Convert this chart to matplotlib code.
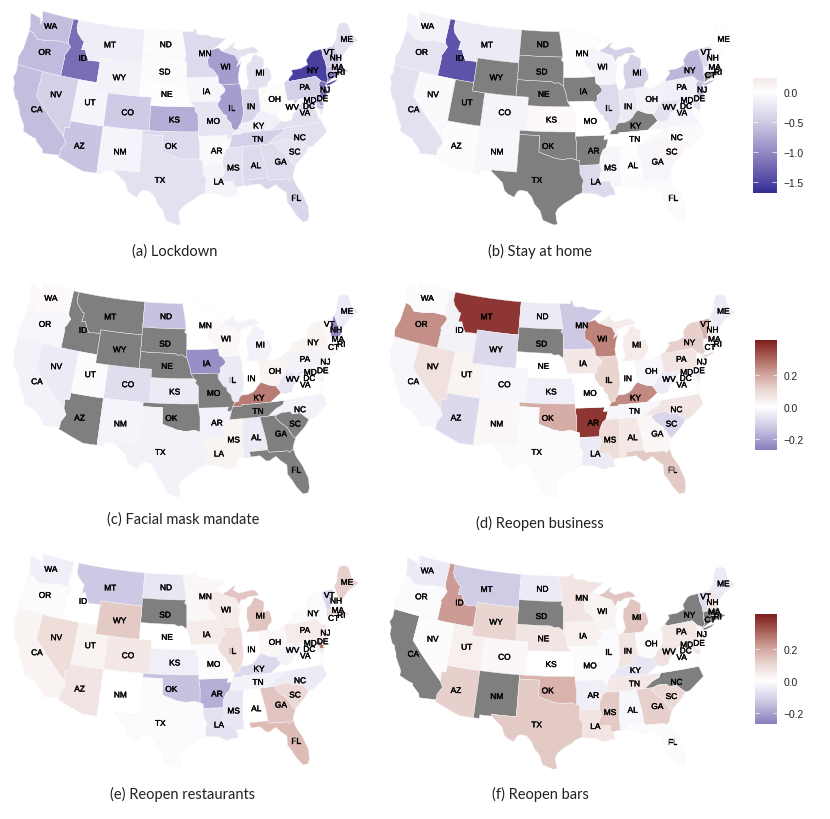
import numpy as np
import matplotlib
matplotlib.use("Agg")
import matplotlib.pyplot as plt
import matplotlib.patheffects as pe
from matplotlib.colors import LinearSegmentedColormap, to_rgb
from matplotlib.patches import Polygon

W, H = 830, 820
nan = float("nan")

STATES = ["AL","AR","AZ","CA","CO","CT","DC","DE","FL","GA","IA","ID","IL","IN","KS","KY","LA",
          "MA","MD","ME","MI","MN","MO","MS","MT","NC","ND","NE","NH","NJ","NM","NV","NY","OH",
          "OK","OR","PA","RI","SC","SD","TN","TX","UT","VA","VT","WA","WI","WV","WY"]

LOCKDOWN = [-0.35,-0.05,-0.55,-0.60,-0.50,-1.10,-0.50,-0.90,-0.40,-0.33,-0.08,-1.20,-0.85,-0.40,-0.72,-0.15,-0.10,
            -0.55,-0.55,-0.30,-0.30,-0.35,-0.25,-0.30,-0.17,-0.30,-0.03,-0.02,-0.50,-1.20,-0.10,-0.45,-1.55,0.05,
            -0.35,-0.62,-0.45,-0.40,-0.25,-0.03,-0.45,-0.30,-0.10,-0.30,-0.50,-0.60,-0.85,0.00,-0.12]
STAY_HOME = [-0.02,nan,-0.03,-0.30,-0.10,nan,-0.20,-0.35,-0.04,-0.08,nan,-1.40,-0.35,-0.20,0.06,nan,-0.35,
             -0.10,-0.30,0.02,-0.45,-0.01,0.00,-0.08,-0.20,-0.05,nan,nan,-0.05,-0.60,-0.08,-0.05,-0.65,-0.12,
             nan,-0.25,-0.15,nan,0.10,nan,0.00,nan,nan,-0.10,-0.35,-0.12,-0.10,-0.30,nan]
MASK = [-0.05,-0.035,nan,-0.03,-0.08,0.02,0.00,-0.01,nan,nan,-0.24,nan,-0.05,0.00,-0.05,0.27,0.03,
        0.00,-0.03,-0.05,-0.03,0.00,nan,0.03,nan,-0.03,-0.14,nan,-0.25,-0.03,-0.025,-0.05,0.03,0.03,
        nan,-0.02,-0.03,0.00,nan,nan,nan,-0.03,-0.01,0.00,0.02,0.015,0.02,-0.06,nan]
BUSINESS = [0.06,0.38,-0.09,-0.02,-0.02,0.00,0.00,-0.05,0.13,0.02,0.06,-0.03,0.11,0.00,-0.04,0.25,-0.05,
            0.01,-0.03,-0.05,0.05,-0.13,0.00,0.09,0.38,0.07,-0.05,0.00,0.05,0.00,0.02,0.08,0.12,-0.02,
            0.19,0.24,0.07,0.00,-0.10,nan,-0.02,-0.01,0.03,0.00,0.18,0.01,0.26,-0.05,-0.09]
RESTAURANTS = [0.00,-0.18,0.07,0.03,0.06,0.00,0.00,0.28,0.16,0.14,0.05,0.00,0.09,0.00,-0.04,-0.09,-0.07,
               0.10,-0.05,0.12,0.14,0.02,0.01,-0.06,-0.13,-0.05,-0.06,0.00,-0.01,0.06,0.00,0.09,-0.01,0.02,
               -0.14,-0.01,0.05,0.05,0.10,nan,-0.03,-0.01,0.03,0.00,-0.10,-0.04,0.05,-0.03,0.13]
BARS = [-0.02,-0.04,0.12,nan,0.02,nan,0.00,-0.04,-0.01,0.12,0.04,0.22,-0.01,0.07,0.00,-0.06,0.07,
        nan,0.08,-0.05,0.14,0.07,0.01,0.13,-0.12,nan,-0.05,0.07,0.07,0.02,nan,0.01,nan,0.01,
        0.18,-0.01,0.06,nan,0.10,nan,0.06,0.13,0.04,0.00,-0.08,-0.05,0.03,0.08,0.11]

CAPTIONS = ["(a) Lockdown","(b) Stay at home","(c) Facial mask mandate",
            "(d) Reopen business","(e) Reopen restaurants","(f) Reopen bars"]
TICKS_WIDE = [0.0,-0.5,-1.0,-1.5]
TICKS_NARROW = [0.2,0.0,-0.2]

# ---------- geography: simplified state outlines, (lon, lat) ----------
GEO = {
"WA":[[(-124.7,48.38),(-123.1,48.15),(-122.75,48.1),(-122.45,47.4),(-122.3,47.9),(-122.5,48.4),(-122.76,49),(-117.03,49),(-117.04,46.42),(-116.92,45.99),(-118.98,46),(-119.3,45.93),(-120.5,45.7),(-121.2,45.65),(-122.3,45.55),(-122.8,45.9),(-123.2,46.15),(-124,46.27),(-124.1,46.9),(-124.4,47.5)]],
"OR":[[(-124,46.27),(-123.2,46.15),(-122.8,45.9),(-122.3,45.55),(-121.2,45.65),(-120.5,45.7),(-119.3,45.93),(-118.98,46),(-116.92,45.99),(-116.46,45.6),(-116.85,44.9),(-117.2,44.4),(-117.03,44.2),(-117.03,42),(-124.21,42),(-124.5,42.85),(-124.1,44)]],
"CA":[[(-124.21,42),(-120,42),(-120,39),(-114.63,35),(-114.14,34.3),(-114.72,33.4),(-114.72,32.72),(-117.12,32.53),(-117.3,33),(-118.4,33.75),(-118.5,34.03),(-119.2,34.15),(-120.6,34.55),(-120.65,35.15),(-121.9,36.6),(-122,36.95),(-122.5,37.6),(-122.5,37.8),(-123,38),(-123.75,39),(-123.85,39.8),(-124.35,40.4),(-124.1,41)]],
"NV":[[(-120,42),(-114.04,42),(-114.05,36.2),(-114.75,36.1),(-114.63,35),(-120,39)]],
"ID":[[(-117.03,49),(-116.05,49),(-116.05,48),(-115.7,47.45),(-114.7,46.7),(-114.35,46.65),(-114.5,45.55),(-113.9,45.65),(-113.45,44.95),(-113,44.45),(-111.5,44.55),(-111.05,44.48),(-111.05,42),(-117.03,42),(-117.03,44.2),(-117.2,44.4),(-116.85,44.9),(-116.46,45.6),(-116.92,45.99),(-117.04,46.42)]],
"MT":[[(-116.05,49),(-104.05,49),(-104.05,45),(-111.05,45),(-111.05,44.48),(-111.5,44.55),(-113,44.45),(-113.45,44.95),(-113.9,45.65),(-114.5,45.55),(-114.35,46.65),(-114.7,46.7),(-115.7,47.45),(-116.05,48)]],
"WY":[[(-111.05,45),(-104.05,45),(-104.05,41),(-111.05,41)]],
"UT":[[(-114.04,42),(-111.05,42),(-111.05,41),(-109.05,41),(-109.05,37),(-114.05,37)]],
"AZ":[[(-114.05,37),(-109.05,37),(-109.05,31.33),(-111.07,31.33),(-114.82,32.5),(-114.72,32.72),(-114.72,33.4),(-114.14,34.3),(-114.63,35),(-114.75,36.1),(-114.05,36.2)]],
"CO":[[(-109.05,41),(-102.05,41),(-102.05,37),(-109.05,37)]],
"NM":[[(-109.05,37),(-103,37),(-103.04,32),(-106.62,32),(-106.53,31.78),(-108.2,31.78),(-108.2,31.33),(-109.05,31.33)]],
"ND":[[(-104.05,49),(-97.23,49),(-96.85,47.5),(-96.56,45.94),(-104.05,45.94)]],
"SD":[[(-104.05,45.94),(-96.56,45.94),(-96.85,45.6),(-96.45,45.3),(-96.45,43.5),(-96.44,42.49),(-96.7,42.6),(-97.2,42.85),(-97.9,42.8),(-98.5,43),(-104.05,43)]],
"NE":[[(-104.05,43),(-98.5,43),(-97.9,42.8),(-97.2,42.85),(-96.7,42.6),(-96.44,42.49),(-96.1,41.7),(-95.9,41.2),(-95.85,40.7),(-95.31,40),(-102.05,40),(-102.05,41),(-104.05,41)]],
"KS":[[(-102.05,40),(-95.31,40),(-94.9,39.8),(-95.1,39.5),(-94.61,39.1),(-94.62,37),(-102.05,37)]],
"OK":[[(-103,37),(-94.62,37),(-94.62,36.5),(-94.43,35.4),(-94.48,33.64),(-95.3,33.88),(-96.2,33.75),(-97,33.75),(-97.2,33.85),(-97.9,33.9),(-98.4,34.1),(-99.2,34.3),(-100,34.56),(-100,36.5),(-103,36.5)]],
"TX":[[(-103,36.5),(-100,36.5),(-100,34.56),(-99.2,34.3),(-98.4,34.1),(-97.9,33.9),(-97.2,33.85),(-97,33.75),(-96.2,33.75),(-95.3,33.88),(-94.48,33.64),(-94.04,33.55),(-94.04,32),(-93.55,31.2),(-93.8,30.5),(-93.7,30.1),(-93.85,29.7),(-94.7,29.4),(-95.2,29),(-96.2,28.5),(-97.1,27.85),(-97.4,27.3),(-97.3,26.6),(-97.15,25.96),(-97.6,25.85),(-98.2,26.06),(-99.1,26.4),(-99.5,27.5),(-100.3,28.3),(-100.7,29.1),(-101.4,29.77),(-102.3,29.87),(-102.7,29.7),(-103.15,28.98),(-104,29.3),(-104.5,29.65),(-104.9,30.6),(-106,31.4),(-106.53,31.78),(-106.62,32),(-103.04,32)]],
"MN":[[(-97.23,49),(-95.15,49),(-95.15,49.38),(-94.8,49.3),(-94.6,48.72),(-93.8,48.55),(-92.95,48.62),(-92,48.3),(-90.8,48.2),(-89.5,48),(-90.8,47.3),(-92.05,46.75),(-92.3,46.65),(-92.3,46.1),(-92.85,45.6),(-92.75,44.75),(-91.9,44.3),(-91.2,43.5),(-96.45,43.5),(-96.45,45.3),(-96.85,45.6),(-96.56,45.94),(-96.85,47.5)]],
"IA":[[(-96.45,43.5),(-91.2,43.5),(-91.1,42.7),(-90.64,42.5),(-90.15,41.95),(-90.3,41.6),(-91.05,41.2),(-91,40.75),(-91.42,40.38),(-91.7,40.6),(-95.77,40.58),(-95.85,40.7),(-95.9,41.2),(-96.1,41.7),(-96.44,42.49)]],
"MO":[[(-95.77,40.58),(-91.7,40.6),(-91.42,40.38),(-91.5,40),(-90.7,39),(-90.2,38.8),(-90.2,38.4),(-89.6,37.9),(-89.5,37.3),(-89.15,37),(-89.5,36.5),(-89.7,36),(-90.37,36),(-90.15,36.5),(-94.62,36.5),(-94.62,37),(-94.61,39.1),(-95.1,39.5),(-94.9,39.8),(-95.31,40)]],
"AR":[[(-94.62,36.5),(-90.15,36.5),(-90.37,36),(-89.7,36),(-90.1,35),(-90.6,34.7),(-91.05,33.9),(-91.17,33),(-94.04,33.02),(-94.04,33.55),(-94.48,33.64),(-94.43,35.4)]],
"LA":[[(-94.04,33.02),(-91.17,33),(-90.9,32.3),(-91.6,31),(-89.73,31),(-89.85,30.65),(-89.55,30.2),(-89.4,30.05),(-89.2,29.3),(-89.9,29.3),(-90.9,29.05),(-91.8,29.5),(-92.3,29.55),(-93.85,29.7),(-93.7,30.1),(-93.8,30.5),(-93.55,31.2),(-94.04,32)]],
"WI":[[(-92.05,46.75),(-90.9,46.95),(-90.4,46.55),(-89.1,46.15),(-88.1,45.9),(-87.8,45.35),(-87.6,45.1),(-88,44.55),(-87.4,44.9),(-87.1,45.2),(-87.55,44.3),(-87.9,43.2),(-87.8,42.49),(-90.64,42.5),(-91.1,42.7),(-91.2,43.5),(-91.9,44.3),(-92.75,44.75),(-92.85,45.6),(-92.3,46.1),(-92.3,46.65)]],
"IL":[[(-90.64,42.5),(-87.8,42.49),(-87.53,41.75),(-87.53,39.35),(-87.6,38.7),(-87.95,38),(-88.05,37.8),(-88.45,37.4),(-88.5,37.1),(-89.15,37),(-89.5,37.3),(-89.6,37.9),(-90.2,38.4),(-90.2,38.8),(-90.7,39),(-91.5,40),(-91.42,40.38),(-91,40.75),(-91.05,41.2),(-90.3,41.6),(-90.15,41.95)]],
"IN":[[(-87.53,41.75),(-86.82,41.76),(-84.8,41.72),(-84.82,39.1),(-85.4,38.7),(-85.8,38.3),(-86.3,38),(-87.1,37.8),(-88.05,37.8),(-87.95,38),(-87.6,38.7),(-87.53,39.35)]],
"OH":[[(-84.8,41.72),(-83.45,41.73),(-82.7,41.5),(-81.7,41.5),(-80.52,41.98),(-80.52,40.64),(-80.85,39.7),(-81.7,39.2),(-82.2,38.6),(-82.6,38.42),(-83.7,38.65),(-84.82,39.1)]],
"KY":[[(-88.5,37.1),(-88.45,37.4),(-88.05,37.8),(-87.1,37.8),(-86.3,38),(-85.8,38.3),(-85.4,38.7),(-84.82,39.1),(-83.7,38.65),(-82.6,38.42),(-81.97,37.54),(-83.68,36.6),(-88.07,36.65),(-88.05,36.5),(-89.5,36.5),(-89.15,37)]],
"TN":[[(-90.1,35),(-89.7,36),(-89.5,36.5),(-88.05,36.5),(-88.07,36.65),(-83.68,36.6),(-81.68,36.59),(-82,36.1),(-83.1,35.75),(-84.32,35)]],
"MS":[[(-90.1,35),(-88.2,35),(-88.1,34.9),(-88.47,31.9),(-88.4,30.35),(-89.55,30.2),(-89.85,30.65),(-89.73,31),(-91.6,31),(-90.9,32.3),(-91.17,33),(-91.05,33.9),(-90.6,34.7)]],
"AL":[[(-88.2,35),(-85.6,34.98),(-85.18,32.87),(-85.05,32),(-85,31),(-87.6,31),(-87.45,30.35),(-88,30.25),(-88.4,30.35),(-88.47,31.9),(-88.1,34.9)]],
"GA":[[(-85.6,34.98),(-83.1,35),(-83.35,34.7),(-82.7,34),(-81.9,33.4),(-81.15,32.1),(-80.85,32.03),(-81.4,31),(-81.45,30.7),(-82.05,30.35),(-82.2,30.57),(-84.86,30.7),(-85,31),(-85.05,32),(-85.18,32.87)]],
"FL":[[(-87.6,31),(-85,31),(-84.86,30.7),(-82.2,30.57),(-82.05,30.35),(-81.45,30.7),(-81.25,29.8),(-80.55,28.5),(-80.05,26.9),(-80.15,25.75),(-80.4,25.2),(-81.1,25.15),(-81.8,26.1),(-82.2,26.9),(-82.75,27.8),(-82.65,28.9),(-83.4,29.5),(-84,30.1),(-85,29.65),(-85.4,29.7),(-86.2,30.4),(-87.45,30.35)]],
"SC":[[(-83.1,35),(-82.3,35.2),(-81.05,35.15),(-80.8,34.82),(-79.67,34.8),(-78.55,33.86),(-79.2,33.2),(-79.9,32.7),(-80.85,32.03),(-81.15,32.1),(-81.9,33.4),(-82.7,34),(-83.35,34.7)]],
"NC":[[(-84.32,35),(-83.1,35.75),(-82,36.1),(-81.68,36.59),(-75.87,36.55),(-75.5,35.25),(-76.5,34.7),(-77.9,33.9),(-78.55,33.86),(-79.67,34.8),(-80.8,34.82),(-81.05,35.15),(-82.3,35.2),(-83.1,35)]],
"VA":[[(-83.68,36.6),(-81.97,37.54),(-81.3,37.3),(-80.3,37.5),(-79.95,38.2),(-79.3,38.45),(-78.87,38.77),(-78.35,39.4),(-77.75,39.32),(-77.1,38.9),(-77.3,38.4),(-76.35,37.95),(-76.3,37),(-75.97,36.9),(-75.87,36.55),(-81.68,36.59)],[(-75.95,37.15),(-75.65,37.95),(-75.25,38.03),(-75.6,37.5)]],
"WV":[[(-82.6,38.42),(-82.2,38.6),(-81.7,39.2),(-80.85,39.7),(-80.52,40.64),(-80.52,39.72),(-79.48,39.72),(-79.48,39.2),(-78.8,39.6),(-78.2,39.68),(-77.75,39.32),(-78.35,39.4),(-78.87,38.77),(-79.3,38.45),(-79.95,38.2),(-80.3,37.5),(-81.3,37.3),(-81.97,37.54)]],
"MD":[[(-79.48,39.72),(-75.79,39.72),(-75.7,38.46),(-75.05,38.45),(-75.25,38.03),(-75.65,37.95),(-76.2,38.4),(-76.1,39.4),(-76.5,39.2),(-76.45,38.3),(-77.3,38.4),(-77.1,38.9),(-77.75,39.32),(-78.2,39.68),(-78.8,39.6),(-79.48,39.2)]],
"DE":[[(-75.79,39.72),(-75.4,39.8),(-75.55,39.45),(-75.1,38.78),(-75.05,38.45),(-75.7,38.46)]],
"DC":[[(-77.12,38.93),(-77.04,39),(-76.93,38.9),(-77.04,38.8)]],
"PA":[[(-80.52,41.98),(-79.76,42.27),(-79.76,42),(-75.35,42),(-74.7,41.36),(-75.13,40.97),(-75.1,40.6),(-74.72,40.15),(-75.4,39.8),(-75.79,39.72),(-80.52,39.72),(-80.52,40.64)]],
"NY":[[(-79.76,42.27),(-78.9,42.85),(-79.05,43.27),(-77.5,43.27),(-76.2,43.55),(-76.3,44.1),(-75.3,44.85),(-74.7,45),(-73.35,45),(-73.4,44),(-73.25,43.55),(-73.27,42.75),(-73.5,42.05),(-73.5,41.3),(-73.73,41.1),(-73.8,40.8),(-74.02,40.7),(-73.9,41),(-74.7,41.36),(-75.35,42),(-79.76,42)],[(-74,40.6),(-73.75,40.85),(-72.6,40.98),(-71.9,41.07),(-72.5,40.8),(-73.5,40.6)]],
"NJ":[[(-74.7,41.36),(-73.9,41),(-74.02,40.7),(-74.25,40.5),(-74,40.45),(-74.1,39.75),(-74.4,39.4),(-74.95,38.93),(-75.1,39.2),(-75.55,39.5),(-75.4,39.8),(-74.72,40.15),(-75.1,40.6),(-75.13,40.97)]],
"CT":[[(-73.5,42.05),(-71.8,42.02),(-71.8,41.4),(-72.9,41.25),(-73.65,40.98),(-73.73,41.1),(-73.5,41.3)]],
"RI":[[(-71.8,42.02),(-71.38,42.02),(-71.2,41.5),(-71.8,41.4)]],
"MA":[[(-73.5,42.05),(-73.27,42.75),(-71.3,42.7),(-70.8,42.87),(-70.6,42.65),(-71,42.3),(-70.6,41.95),(-70,41.8),(-70.05,42.05),(-69.95,41.65),(-70.65,41.55),(-71.2,41.5),(-71.38,42.02),(-71.8,42.02)]],
"VT":[[(-73.35,45),(-71.5,45.01),(-71.55,44.6),(-72.05,44.2),(-72.45,43.2),(-72.46,42.73),(-73.27,42.75),(-73.25,43.55),(-73.4,44)]],
"NH":[[(-71.5,45.01),(-71.08,45.3),(-71,44.4),(-70.75,43.1),(-70.8,42.87),(-71.3,42.7),(-72.46,42.73),(-72.45,43.2),(-72.05,44.2),(-71.55,44.6)]],
"ME":[[(-71.08,45.3),(-70.4,45.8),(-70,46.7),(-69.25,47.45),(-68.3,47.35),(-67.8,47.05),(-67.8,45.7),(-67.4,45.3),(-67,44.85),(-68.8,44.4),(-70,43.75),(-70.75,43.1),(-71,44.4)]],
"MI":[[(-84.8,41.72),(-86.82,41.76),(-86.25,42.4),(-86.5,43.6),(-86.25,44.7),(-85.55,45),(-85,45.75),(-84.7,45.78),(-83.4,45.2),(-83.35,44.85),(-83.55,44.05),(-83.9,43.65),(-83.4,43.95),(-82.95,44.07),(-82.6,43.85),(-82.42,43),(-82.5,42.6),(-83.1,42.25),(-83.45,41.73)],
      [(-90.4,46.55),(-89.2,46.9),(-88.4,47.35),(-87.9,47.45),(-88.4,46.95),(-87.4,46.5),(-86,46.65),(-85,46.75),(-84.4,46.5),(-84,46),(-84.8,45.95),(-85.9,45.95),(-86.6,45.65),(-87.1,45.7),(-87.6,45.1),(-87.8,45.35),(-88.1,45.9),(-89.1,46.15)]],
}

# state label anchors, measured on panel (a) in image pixels x3 (y from 10 px down)
LABEL_AT = {"WA":(152,55),"OR":(134,133),"CA":(110,305),"NV":(168,260),"ID":(248,151),"MT":(330,111),
 "WY":(358,209),"UT":(270,284),"AZ":(238,414),"CO":(383,314),"NM":(360,432),"ND":(497,110),"SD":(494,192),
 "NE":(500,259),"KS":(523,336),"OK":(513,415),"TX":(480,517),"MN":(615,137),"IA":(619,251),"MO":(640,340),
 "AR":(650,429),"LA":(656,522),"WI":(677,177),"IL":(696,300),"MI":(780,195),"IN":(753,296),"OH":(824,274),
 "KY":(776,354),"TN":(773,394),"MS":(700,480),"AL":(768,473),"GA":(842,462),"SC":(884,432),"NC":(899,389),
 "FL":(888,570),"WV":(877,298),"VA":(915,315),"MD":(930,277),"DC":(927,295),"DE":(967,272),"PA":(914,238),
 "NJ":(975,246),"NY":(938,188),"VT":(987,133),"NH":(1007,150),"ME":(1040,94),"MA":(1013,178),"RI":(1023,193),
 "CT":(1000,202)}

# ---------- layout ----------
PANELS = [  # values, limit, panel offset (px), caption centre (px)
    (LOCKDOWN,   1.68, (0,0),       (175,252)),
    (STAY_HOME,  1.68, (377,0),     (540,251)),
    (MASK,       0.42, (0.3,272),   (183,520)),
    (BUSINESS,   0.42, (376.7,272), (540,523)),
    (RESTAURANTS,0.42, (0.3,543),   (183,794)),
    (BARS,       0.42, (376.7,544.5),(540,794)),
]
COLORBARS = [  # (x0,x1,y0,y1) px, vmin, vmax, ticks
    ((753,777,79,194), -1.68, 0.233, TICKS_WIDE),
    ((755,777,341,451), -0.27, 0.419, TICKS_NARROW),
    ((755,777,615,725), -0.27, 0.419, TICKS_NARROW),
]

stops = [(-1.0,"#352D92"),(-0.9,"#4E45A2"),(-0.6,"#9488C3"),(-0.3,"#CFCAE5"),(0.0,"#FFFFFF"),
         (0.25,"#EBD7D3"),(0.5,"#D0A39B"),(0.75,"#A85F57"),(1.0,"#7F1D1D")]
CMAP = LinearSegmentedColormap.from_list("div",[((v+1)/2,to_rgb(c)) for v,c in stops],N=512)
GRAY = "#7F7F7F"

def albers(lon, lat):
    p1,p2,p0,l0 = np.radians([29.5,45.5,37.5,-96.0])
    n = (np.sin(p1)+np.sin(p2))/2
    C = np.cos(p1)**2+2*n*np.sin(p1)
    rho0 = 6371*np.sqrt(C-2*n*np.sin(p0))/n
    rho = 6371*np.sqrt(C-2*n*np.sin(np.radians(lat)))/n
    th = n*(np.radians(lon)-l0)
    return rho*np.sin(th), rho0-rho*np.cos(th)

def ring_xy(ring):
    pts = np.array(ring+[ring[0]],float)
    lon,lat = [],[]
    for a,b in zip(pts[:-1],pts[1:]):
        k = max(1,int(np.ceil(abs(b[0]-a[0])/1.0)))
        for t in np.arange(k)/k:
            lon.append(a[0]+(b[0]-a[0])*t); lat.append(a[1]+(b[1]-a[1])*t)
    return np.column_stack(albers(np.array(lon),np.array(lat)))

SHAPES = {s:[ring_xy(r) for r in rings] for s,rings in GEO.items()}
allpts = np.vstack([r for rs in SHAPES.values() for r in rs])
xmin,ymin = allpts.min(0); xmax,ymax = allpts.max(0)

# panel (a) map extent in pixels; each panel axes spans 375 x 270 px from its offset
PX_L,PX_R,PX_T,PX_B = 13,358,12,226
AW,AH = 375,270
sx = (xmax-xmin)/(PX_R-PX_L); sy = (ymax-ymin)/(PX_B-PX_T)

plt.rcParams["font.family"] = ["Liberation Sans","DejaVu Sans"]
fig = plt.figure(figsize=(W/100,H/100),dpi=100,facecolor="white")
halo = [pe.withStroke(linewidth=0.25,foreground="black")]

for (vals,lim,(ox,oy),(cx,cy)),cap in zip(PANELS,CAPTIONS):
    ax = fig.add_axes([ox/W,1-(oy+AH)/H,AW/W,AH/H])
    ax.set_xlim(xmin-PX_L*sx,xmin+(AW-PX_L)*sx)
    ax.set_ylim(ymax-(AH-PX_T)*sy,ymax+PX_T*sy)
    ax.axis("off"); ax.patch.set_alpha(0)
    for s,v in zip(STATES,vals):
        col = GRAY if np.isnan(v) else CMAP((v+lim)/(2*lim))
        for r in SHAPES[s]:
            ax.add_patch(Polygon(r,closed=True,facecolor=col,edgecolor="#F6F6FA",linewidth=0.3,joinstyle="round"))
    for s in STATES:
        lx,ly = LABEL_AT[s]
        ax.text((lx/3)/AW,1-(10+ly/3)/AH,s,transform=ax.transAxes,ha="center",va="center",
                fontsize=6.0,color="black",fontfamily="Liberation Sans",path_effects=halo)
    fig.text(cx/W,1-cy/H,cap,ha="center",va="center",fontsize=10.5,color="#222222",fontfamily="Lato")

for (x0,x1,y0,y1),vmin,vmax,ticks in COLORBARS:
    cb = fig.add_axes([x0/W,1-y1/H,(x1-x0)/W,(y1-y0)/H])
    lim = 1.68 if vmin<-1 else 0.42
    grad = np.linspace(vmin,vmax,256).reshape(-1,1)
    cb.imshow(grad,origin="lower",aspect="auto",extent=(0,1,vmin,vmax),cmap=CMAP,vmin=-lim,vmax=lim)
    for sp in cb.spines.values(): sp.set_visible(False)
    cb.set_xticks([]); cb.yaxis.tick_right()
    cb.set_yticks(ticks); cb.set_yticklabels([f"{t:.1f}".replace("-","\u2212") for t in ticks],fontsize=7.4,color="#222222")
    cb.tick_params(axis="y",length=0,pad=5)
    cb.hlines(ticks,0,0.2,color="white",lw=0.5); cb.hlines(ticks,0.8,1,color="white",lw=0.5)
    cb.set_xlim(0,1); cb.set_ylim(vmin,vmax)

fig.savefig("out.png",dpi=100,facecolor="white")
